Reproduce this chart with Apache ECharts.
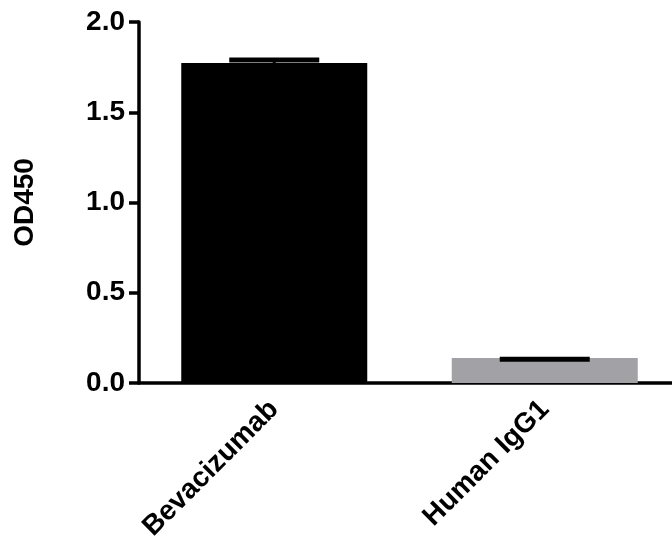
<!DOCTYPE html>
<html>
<head>
<meta charset="utf-8">
<script src="https://cdn.jsdelivr.net/npm/echarts@6/dist/echarts.min.js"></script>
<style>html,body{margin:0;padding:0;background:#fff}#c{width:672px;height:538px}</style>
</head>
<body>
<div id="c"></div>
<script>
const categories = ['Bevacizumab', 'Human IgG1'];
const meanValues = [1.773, 0.138];
const errorTops = [1.79, 0.131];
const barColors = ['#000000', '#a2a1a6'];
const yTicks = [0, 0.5, 1.0, 1.5, 2.0];

const chart = echarts.init(document.getElementById('c'), null, {renderer: 'canvas'});
const FONT = 'Liberation Sans, Arial, sans-serif';
chart.setOption({
  animation: false,
  backgroundColor: '#fff',
  grid: {left: 139, top: 22, width: 541, height: 361, containLabel: false, outerBoundsMode: 'none'},
  xAxis: {
    type: 'category',
    data: categories,
    axisLine: {lineStyle: {color: '#000', width: 3.5}},
    axisTick: {alignWithLabel: true, length: 10, lineStyle: {color: '#000', width: 3.5}},
    axisLabel: {rotate: 45, margin: 22, color: '#000', fontFamily: FONT, fontWeight: 'bold', fontSize: 28}
  },
  yAxis: {
    type: 'value',
    min: 0, max: 2, interval: 0.5,
    name: 'OD450',
    nameLocation: 'middle',
    nameGap: 100,
    nameRotate: 90,
    nameTextStyle: {color: '#000', fontFamily: FONT, fontWeight: 'bold', fontSize: 28},
    splitLine: {show: false},
    axisLine: {show: true, lineStyle: {color: '#000', width: 3.5}},
    axisTick: {show: true, length: 10, lineStyle: {color: '#000', width: 3.5}},
    axisLabel: {margin: 14, color: '#000', fontFamily: FONT, fontWeight: 'bold', fontSize: 28,
      formatter: v => yTicks.includes(v) ? v.toFixed(1) : ''}
  },
  series: [
    {
      type: 'bar',
      barWidth: 186,
      data: meanValues.map((v, i) => ({value: v, itemStyle: {color: barColors[i]}})),
      z: 2
    },
    {
      type: 'custom',
      z: 3,
      data: categories.map((c, i) => [i, meanValues[i], errorTops[i]]),
      renderItem: function (params, api) {
        const x = api.value(0);
        const base = api.coord([x, api.value(1)]);
        const top = api.coord([x, api.value(2)]);
        const hw = 45;
        return {
          type: 'group',
          children: [
            {type: 'line', shape: {x1: top[0], y1: base[1], x2: top[0], y2: top[1]}, style: {stroke: '#000', lineWidth: 3}},
            {type: 'line', shape: {x1: top[0] - hw, y1: top[1], x2: top[0] + hw, y2: top[1]}, style: {stroke: '#000', lineWidth: 5}}
          ]
        };
      }
    }
  ]
});
</script>
</body>
</html>
